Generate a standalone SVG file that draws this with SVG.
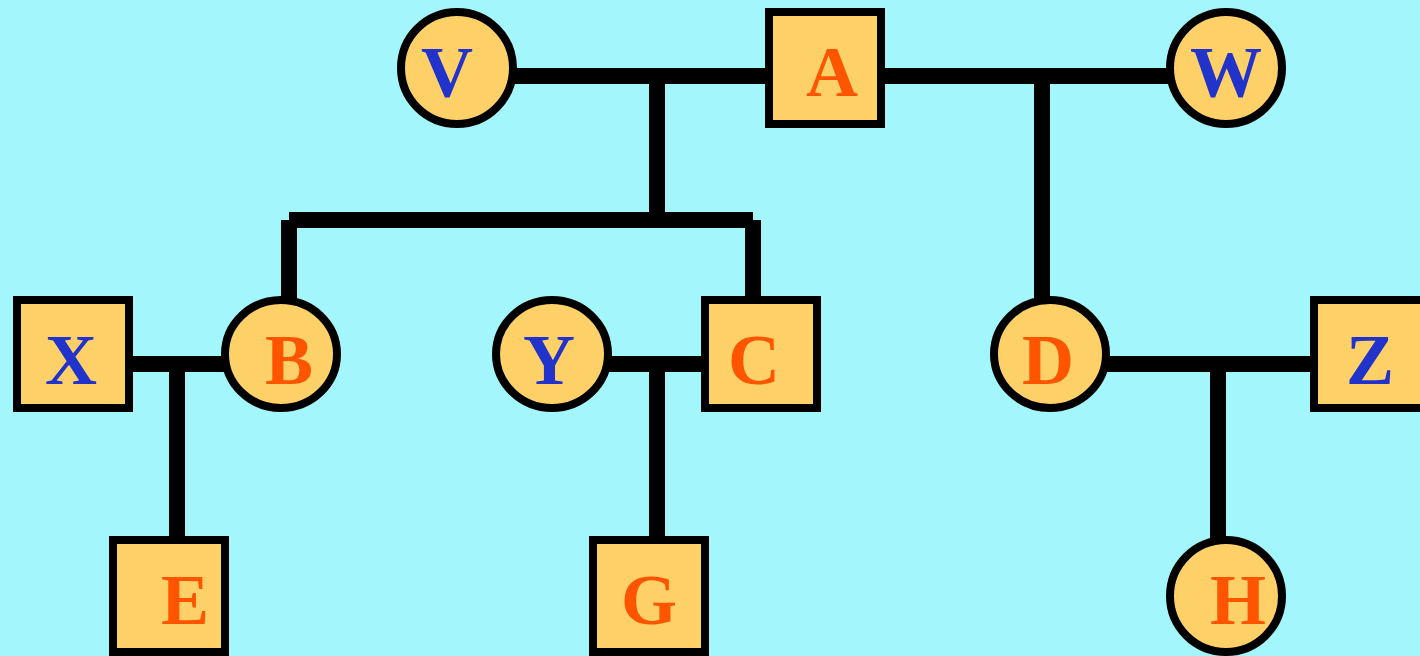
<svg xmlns="http://www.w3.org/2000/svg" width="1420" height="656" viewBox="0 0 1420 656">
<style>
.bg{fill:#A2F6FC}
.ln{stroke:#000;stroke-width:16;fill:none;stroke-linecap:butt}
.nd{fill:#FED068;stroke:#000;stroke-width:8}
.t{font-family:"Liberation Serif","Times New Roman",serif;font-weight:bold;font-size:72px;text-anchor:middle}
.b{fill:#2233CC}
.o{fill:#FF5500}
</style>
<rect class="bg" x="0" y="0" width="1420" height="656"/>
<g id="connectors">
<line class="ln" x1="510" y1="76" x2="770" y2="76"/>
<line class="ln" x1="880" y1="76" x2="1172" y2="76"/>
<line class="ln" x1="657" y1="76" x2="657" y2="220"/>
<line class="ln" x1="289" y1="220" x2="753" y2="220"/>
<line class="ln" x1="289" y1="220" x2="289" y2="300"/>
<line class="ln" x1="753" y1="220" x2="753" y2="300"/>
<line class="ln" x1="1042" y1="76" x2="1042" y2="300"/>
<line class="ln" x1="128" y1="364" x2="226" y2="364"/>
<line class="ln" x1="177" y1="364" x2="177" y2="540"/>
<line class="ln" x1="605" y1="364" x2="706" y2="364"/>
<line class="ln" x1="657" y1="364" x2="657" y2="540"/>
<line class="ln" x1="1104" y1="364" x2="1315" y2="364"/>
<line class="ln" x1="1218" y1="364" x2="1218" y2="540"/>
</g>
<g id="node-V"><circle class="nd" cx="457" cy="68" r="56"/><text class="t b" x="447" y="96">V</text></g>
<g id="node-A"><rect class="nd" x="769" y="12" width="112" height="112"/><text class="t o" x="832" y="96">A</text></g>
<g id="node-W"><circle class="nd" cx="1226" cy="68" r="56"/><text class="t b" x="1226" y="96">W</text></g>
<g id="node-X"><rect class="nd" x="17" y="300" width="112" height="108"/><text class="t b" x="71" y="384">X</text></g>
<g id="node-B"><ellipse class="nd" cx="281" cy="354" rx="56" ry="54"/><text class="t o" x="289" y="384">B</text></g>
<g id="node-Y"><ellipse class="nd" cx="552" cy="354" rx="56" ry="54"/><text class="t b" x="549" y="384">Y</text></g>
<g id="node-C"><rect class="nd" x="705" y="300" width="112" height="108"/><text class="t o" x="754" y="384">C</text></g>
<g id="node-D"><ellipse class="nd" cx="1050" cy="354" rx="56" ry="54"/><text class="t o" x="1048" y="384">D</text></g>
<g id="node-Z"><rect class="nd" x="1314" y="300" width="112" height="108"/><text class="t b" x="1370" y="384">Z</text></g>
<g id="node-E"><rect class="nd" x="113" y="540" width="112" height="112"/><text class="t o" x="185" y="624">E</text></g>
<g id="node-G"><rect class="nd" x="593" y="540" width="112" height="112"/><text class="t o" x="649" y="624">G</text></g>
<g id="node-H"><circle class="nd" cx="1226" cy="596" r="56"/><text class="t o" x="1238" y="624">H</text></g>
</svg>
